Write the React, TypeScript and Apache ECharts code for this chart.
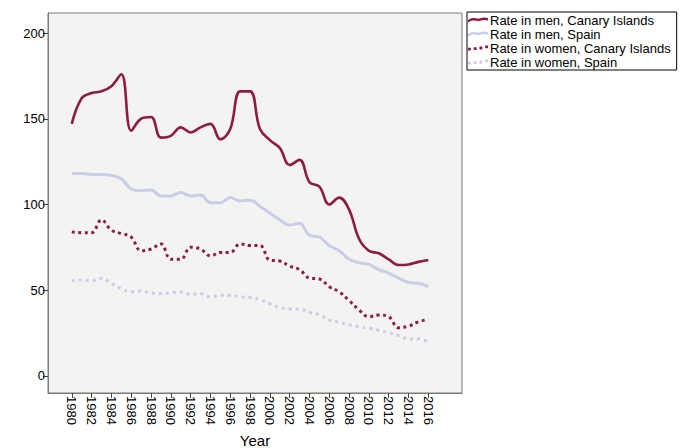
import React, { useEffect, useRef } from "react";
import * as echarts from "echarts";

const years: number[] = [];
for (let y = 1980; y <= 2016; y++) years.push(y);

const tickYears = [1980, 1982, 1984, 1986, 1988, 1990, 1992, 1994, 1996, 1998, 2000, 2002, 2004, 2006, 2008, 2010, 2012, 2014, 2016];
const yTicks = [0, 50, 100, 150, 200];

const seriesNames = [
  "Rate in men, Canary Islands",
  "Rate in men, Spain",
  "Rate in women, Canary Islands",
  "Rate in women, Spain",
];

const menCanary = [147, 162, 165, 166, 169, 176, 143, 150, 151, 139, 140, 145, 142, 145, 147, 138, 144, 166, 166, 144, 137.5, 133, 123, 126, 113, 110.4, 100, 104, 97, 80, 73, 71.5, 68, 64.7, 65, 66.5, 67.6];
const menSpain = [118, 118, 117.5, 117.5, 117, 115, 109, 108, 108.5, 105, 105, 107, 105, 105.5, 101, 101, 104, 102, 102.5, 99, 95, 91, 88, 89, 82, 81, 76, 73, 68, 66, 65, 62, 60, 57, 54.5, 54, 52];
const womenCanary = [84, 83.5, 83.5, 91, 85, 83, 81, 73, 74, 77, 68, 68, 75, 74, 70, 72, 72, 77, 76, 76, 67.5, 67, 64, 62, 57, 56.5, 52, 49, 44, 38.5, 34.5, 35.5, 34.5, 28, 29, 31.5, 33];
const womenSpain = [55.5, 56, 55.5, 57, 54, 51, 49, 49.5, 48.5, 48, 48.5, 49, 47.5, 48, 46.2, 47, 47, 46, 45.8, 44.5, 42, 40, 39, 39, 37, 35.7, 32.5, 31.3, 29.8, 28.7, 27.8, 26.5, 25.3, 23.5, 21.5, 21.5, 20];

const RED = "#8e1c42";
const LAV = "#c9cde8";

const SOLID_ICON = "path://M0,3.5 C5,0 7,2 10,2 C13,2 15,0 20,1.5 L20,4 C15,2.5 13,4.5 10,4.5 C7,4.5 5,2.5 0,6 Z";
const DOT_ICON = "path://M0,4h2.5v2.5h-2.5zM5,3.5h2.5v2.5h-2.5zM10,3h2.5v2.5h-2.5zM15,2h2.5v2.5h-2.5z";

export default function App() {
  const ref = useRef<HTMLDivElement>(null);
  useEffect(() => {
    if (!ref.current) return;
    const chart = echarts.init(ref.current, undefined, { renderer: "svg" });
    const pair = (arr: number[]) => years.map((y, i) => [y, arr[i]]);
    const mk = (name: string, data: number[], color: string, width: number, type: any) => ({
      name,
      type: "line",
      data: pair(data),
      smooth: 0.4,
      symbol: "none",
      lineStyle: { color, width, type, cap: "butt" },
      itemStyle: { color },
    });
    chart.setOption({
      animation: false,
      backgroundColor: "#ffffff",
      textStyle: { fontFamily: "Liberation Sans, Arial, sans-serif" },
      grid: {
        left: 48,
        top: 13,
        right: 222,
        bottom: 55,
        outerBoundsMode: "none",
        containLabel: false,
        show: true,
        backgroundColor: "#f3f3f1",
        borderColor: "#7a7a7a",
        borderWidth: 1,
      },
      legend: {
        orient: "vertical",
        left: 467,
        top: 12,
        itemWidth: 20,
        itemHeight: 7,
        itemGap: 0,
        padding: [1, 6, 1, 1],
        backgroundColor: "#ffffff",
        borderColor: "#000000",
        borderWidth: 1,
        borderRadius: 0,
        textStyle: { fontSize: 13, lineHeight: 14, color: "#000", padding: [0, 0, 0, -3], fontFamily: "Liberation Sans, Arial, sans-serif" },
        data: [
          { name: seriesNames[0], icon: SOLID_ICON },
          { name: seriesNames[1], icon: SOLID_ICON },
          { name: seriesNames[2], icon: DOT_ICON },
          { name: seriesNames[3], icon: DOT_ICON },
        ],
      },
      xAxis: {
        type: "value",
        min: 1977.6,
        max: 2019.4,
        name: "Year",
        nameLocation: "middle",
        nameGap: 38,
        nameTextStyle: { fontSize: 15, color: "#000" },
        splitLine: { show: false },
        axisLine: { show: true, onZero: false, lineStyle: { color: "#7a7a7a" } },
        axisTick: { show: true, length: 5, customValues: tickYears, lineStyle: { color: "#444" } },
        axisLabel: {
          customValues: tickYears,
          rotate: -90,
          fontSize: 13,
          color: "#000",
          margin: 3,
          formatter: (v: number) => String(v),
        },
      },
      yAxis: {
        type: "value",
        min: -10,
        max: 211.7,
        splitLine: { show: false },
        axisLine: { show: true, onZero: false, lineStyle: { color: "#7a7a7a" } },
        axisTick: { show: true, length: 5, customValues: yTicks, lineStyle: { color: "#444" } },
        axisLabel: {
          customValues: yTicks,
          fontSize: 13,
          color: "#000",
          margin: 3,
        },
      },
      series: [
        mk(seriesNames[0], menCanary, RED, 2.6, "solid"),
        mk(seriesNames[1], menSpain, LAV, 3, "solid"),
        mk(seriesNames[2], womenCanary, RED, 3, [3, 3.5]),
        mk(seriesNames[3], womenSpain, LAV, 3, [3, 4]),
      ],
    });
    return () => chart.dispose();
  }, []);
  return <div ref={ref} style={{ position: "fixed", left: 0, top: 0, width: 684, height: 448 }} />;
}
